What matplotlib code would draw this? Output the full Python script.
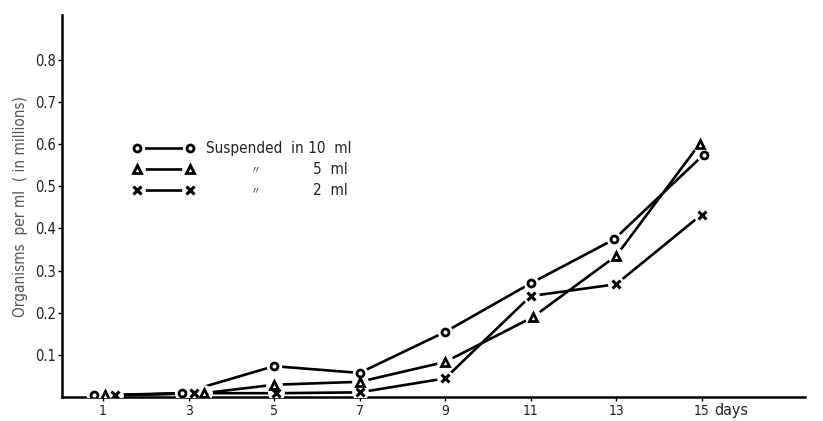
import matplotlib.pyplot as plt

# 字体：窄体无衬线
plt.rcParams['font.family'] = ['DejaVu Sans', 'Noto Sans CJK JP']
plt.rcParams['font.stretch'] = 'condensed'

# 数据
days_10 = [0.8, 2.85, 5.0, 7.0, 9.0, 11.0, 12.95, 15.05]
vals_10 = [0.005, 0.01, 0.074, 0.058, 0.155, 0.27, 0.374, 0.575]
days_5 = [1.05, 3.35, 5.0, 7.0, 9.0, 11.05, 13.0, 14.95]
vals_5 = [0.005, 0.01, 0.03, 0.037, 0.084, 0.19, 0.335, 0.6]
days_2 = [1.28, 3.12, 5.05, 7.0, 9.0, 11.0, 13.0, 15.0]
vals_2 = [0.005, 0.01, 0.01, 0.012, 0.045, 0.24, 0.268, 0.433]

series = [
    (days_10, vals_10, 'o', 5.0),
    (days_5, vals_5, '^', 6.0),
    (days_2, vals_2, 'x', 6.0),
]

xticks = [1, 3, 5, 7, 9, 11, 13, 15]
yticks = [0.1, 0.2, 0.3, 0.4, 0.5, 0.6, 0.7, 0.8]


def draw_marks(ax, xs, ys, m, ms):
    ax.plot(xs, ys, color='black', lw=1.9, zorder=2, solid_capstyle='butt')
    # 白色底衬，制造线条在标记处的断开
    ax.plot(xs, ys, ls='none', marker='o', ms=ms + 5, mfc='white', mec='white', zorder=3)
    if m == 'x':
        ax.plot(xs, ys, ls='none', marker=m, ms=ms, mec='black', mew=2.2, zorder=4)
    else:
        ax.plot(xs, ys, ls='none', marker=m, ms=ms, mfc='white', mec='black', mew=2.0, zorder=4)


fig = plt.figure(figsize=(8.23, 4.21), dpi=100)
ax = fig.add_axes([0.0753, 0.056, 0.903, 0.908])

for xs, ys, m, ms in series:
    draw_marks(ax, xs, ys, m, ms)

ax.set_xlim(0.04, 17.42)
ax.set_ylim(0, 0.905)
ax.set_xticks(xticks)
ax.set_xticklabels([str(t) for t in xticks], fontsize=10, color='#222222')
ax.set_yticks(yticks)
ax.set_yticklabels([f'{t:.1f}' for t in yticks], fontsize=10.5, color='#222222')
ax.tick_params(axis='both', length=3, width=1, direction='out', pad=1.5)
for s in ['top', 'right']:
    ax.spines[s].set_visible(False)
for s in ['left', 'bottom']:
    ax.spines[s].set_linewidth(1.8)

ax.text(15.3, -0.013, 'days', fontsize=11.5, ha='left', va='top', color='#222222')
ax.set_ylabel('Organisms  per ml  ( in millions)', fontsize=11, color='#555555', labelpad=5)

# 图例（手绘）
leg_y = [0.59, 0.54, 0.49]
leg_x = [1.8, 3.03]
leg_mk = [('o', 5.0), ('^', 6.0), ('x', 6.0)]
for yy, (m, ms) in zip(leg_y, leg_mk):
    draw_marks(ax, leg_x, [yy, yy], m, ms)

ax.text(3.4, leg_y[0], 'Suspended  in 10  ml', fontsize=11, va='center', color='#222222')
ax.text(4.45, leg_y[1], '〃', fontsize=7, va='center', color='#222222')
ax.text(4.45, leg_y[2], '〃', fontsize=7, va='center', color='#222222')
ax.text(5.9, leg_y[1], '5  ml', fontsize=11, va='center', color='#222222')
ax.text(5.9, leg_y[2], '2  ml', fontsize=11, va='center', color='#222222')

fig.savefig('out.png', dpi=100)
